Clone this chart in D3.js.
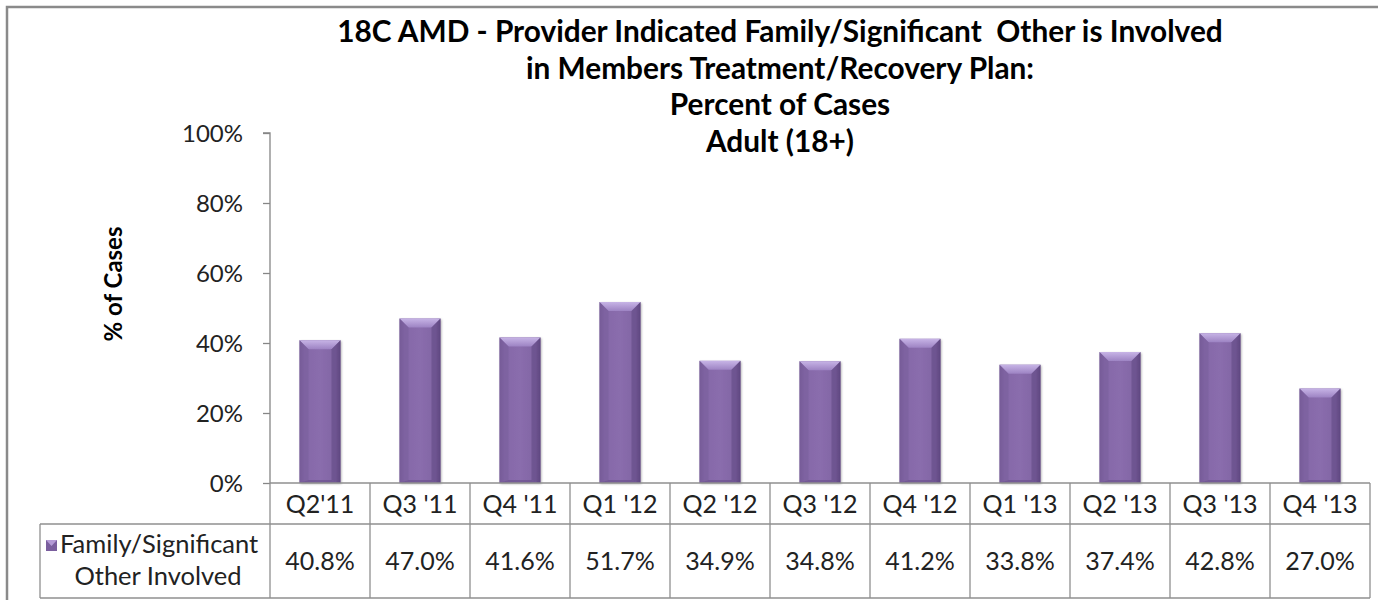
<!DOCTYPE html>
<html><head><meta charset="utf-8">
<script src="https://cdn.jsdelivr.net/npm/d3@7"></script>
<style>
html,body{margin:0;padding:0;background:#fff;overflow:hidden}
svg{display:block;font-family:Lato,"Open Sans",sans-serif}
</style></head>
<body>
<svg id="c" width="1378" height="600"></svg>
<script>
const categories = ["Q2'11","Q3 '11","Q4 '11","Q1 '12","Q2 '12","Q3 '12","Q4 '12","Q1 '13","Q2 '13","Q3 '13","Q4 '13"];
const values = [40.8, 47.0, 41.6, 51.7, 34.9, 34.8, 41.2, 33.8, 37.4, 42.8, 27.0];
const yTicks = [0, 20, 40, 60, 80, 100];
const titleLines = ["18C AMD - Provider Indicated Family/Significant\u00a0 Other is Involved","in Members Treatment/Recovery Plan:","Percent of Cases","Adult (18+)"];
const seriesName = ["Family/Significant","Other Involved"];

const svg = d3.select("#c");
const defs = svg.append("defs");

const X0 = 270, X1 = 1370, Y0 = 133, Ybase = 483;
const x = d3.scaleBand().domain(categories).range([X0, X1]).paddingInner(0.59).paddingOuter(0.295);
const y = d3.scaleLinear().domain([0, 100]).range([Ybase, Y0]);

// outer frame
svg.append("rect").attr("x",7).attr("y",7).attr("width",1400).attr("height",700)
  .attr("fill","#fff").attr("stroke","#8a8a8a").attr("stroke-width",2.5);

// gradients
const g1 = defs.append("linearGradient").attr("id","barG").attr("x1","0").attr("x2","1").attr("y1","0").attr("y2","0");
[[0,"#6f5591"],[0.12,"#8568a8"],[0.5,"#8a6dad"],[0.88,"#8165a4"],[1,"#5f4880"]].forEach(s=>g1.append("stop").attr("offset",s[0]).attr("stop-color",s[1]));
const g2 = defs.append("linearGradient").attr("id","topG").attr("x1","0").attr("x2","0").attr("y1","0").attr("y2","1");
[[0,"#c7b4e6"],[1,"#9d83c3"]].forEach(s=>g2.append("stop").attr("offset",s[0]).attr("stop-color",s[1]));
const f = defs.append("filter").attr("id","sh").attr("x","-20%").attr("y","-10%").attr("width","140%").attr("height","120%");
f.append("feDropShadow").attr("dx",1).attr("dy",1).attr("stdDeviation",1.2).attr("flood-color","#000").attr("flood-opacity",0.3);

// title
const title = svg.append("text").attr("text-anchor","middle").attr("font-weight","bold")
  .attr("font-size",29.8).attr("fill","#000");
titleLines.forEach((t,i)=>title.append("tspan").attr("x",780).attr("y",42+i*36.5).text(t));

// y axis title
svg.append("text").attr("transform","translate(122,284) rotate(-90)").attr("text-anchor","middle")
  .attr("font-weight","bold").attr("font-size",24).attr("fill","#000").text("% of Cases");

// y axis
const yAxis = d3.axisLeft(y).tickValues(yTicks).tickFormat(d=>d+"%").tickSize(7).tickPadding(20);
const ya = svg.append("g").attr("transform",`translate(${X0},0)`).call(yAxis);
ya.select(".domain").attr("stroke","#868686").attr("stroke-width",1.3).attr("d",`M-7,${Y0}H0V${Ybase}`);
ya.selectAll(".tick line").attr("stroke","#868686").attr("stroke-width",1.3);
ya.selectAll(".tick text").attr("font-size",24).attr("fill","#222").attr("font-family","Lato").attr("dy","0.35em");

// bars
const bev = 9;
const bars = svg.append("g").selectAll("g").data(values).join("g")
  .attr("transform",(d,i)=>`translate(${x(categories[i])},${y(d)})`);
bars.each(function(d,i){
  const g = d3.select(this);
  const w = x.bandwidth(), h = Ybase - y(d);
  g.append("rect").attr("width",w).attr("height",h).attr("fill","url(#barG)").attr("filter","url(#sh)");
  g.append("path").attr("d",`M0,0H${w}L${w-bev},${bev}H${bev}Z`).attr("fill","url(#topG)");
  g.append("path").attr("d",`M0,0L${bev},${bev}V${h-3}L0,${h}Z`).attr("fill","#7a5f9d").attr("opacity",0.6);
  g.append("path").attr("d",`M${w},0L${w-bev},${bev}V${h-3}L${w},${h}Z`).attr("fill","#5f4781").attr("opacity",0.55);
  g.append("path").attr("d",`M0,${h}L${bev},${h-3}H${w-bev}L${w},${h}Z`).attr("fill","#5f4781").attr("opacity",0.5);
});

// data table
const gridC = "#8f8f8f";
const tbl = svg.append("g").attr("stroke",gridC).attr("stroke-width",1.3).attr("fill","none");
const rowTop = Ybase, rowMid = 524, rowBot = 598, legL = 40;
tbl.append("line").attr("x1",X0).attr("x2",X1).attr("y1",rowTop).attr("y2",rowTop);
tbl.append("line").attr("x1",legL).attr("x2",X1).attr("y1",rowMid).attr("y2",rowMid);
tbl.append("line").attr("x1",legL).attr("x2",X1).attr("y1",rowBot).attr("y2",rowBot);
tbl.append("line").attr("x1",legL).attr("x2",legL).attr("y1",rowMid).attr("y2",rowBot);
const edges = categories.map(c=>x(c) - x.step()*x.paddingOuter()).concat([X1]);
tbl.selectAll("line.v").data(edges).join("line").attr("class","v")
  .attr("x1",d=>d).attr("x2",d=>d).attr("y1",rowTop).attr("y2",rowBot);

const cx = c => x(c) + x.bandwidth()/2;
svg.append("g").selectAll("text").data(categories).join("text")
  .attr("x",d=>cx(d)).attr("y",513).attr("text-anchor","middle")
  .attr("font-size",25).attr("fill","#222").text(d=>d);
svg.append("g").selectAll("text").data(values).join("text")
  .attr("x",(d,i)=>cx(categories[i])).attr("y",570).attr("text-anchor","middle")
  .attr("font-size",25).attr("fill","#222").text(d=>d.toFixed(1)+"%");

// legend
svg.append("rect").attr("x",46).attr("y",540).attr("width",11).attr("height",11).attr("fill","#7a5e9e");
svg.append("path").attr("d","M46,540H57L51.5,546Z").attr("fill","#b49ad6");
svg.append("text").attr("x",60).attr("y",553).attr("font-size",25.5).attr("fill","#222").text(seriesName[0]);
svg.append("text").attr("x",158).attr("y",585).attr("text-anchor","middle").attr("font-size",25.5).attr("fill","#222").text(seriesName[1]);
</script>
</body></html>
